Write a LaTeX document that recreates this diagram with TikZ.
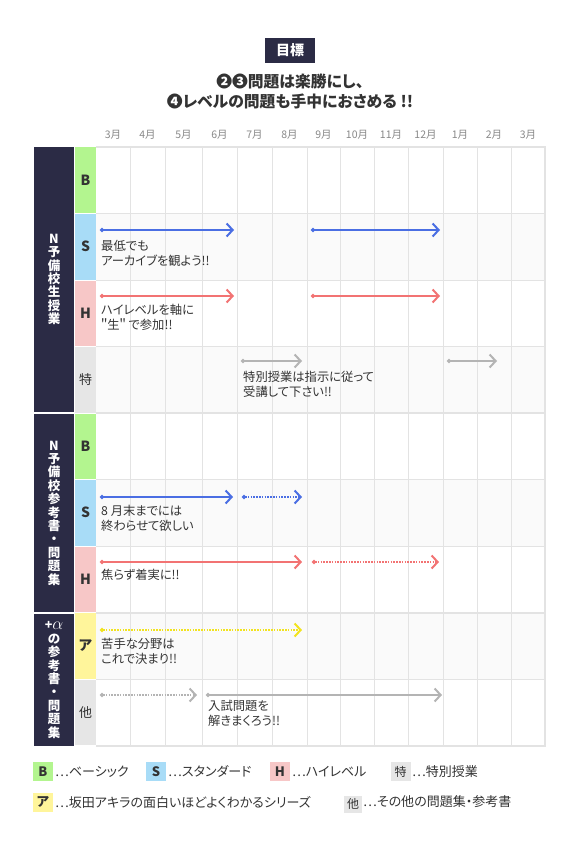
\documentclass[tikz,border=0pt]{standalone}
\usepackage{fontspec}
\setmainfont{Noto Sans CJK JP}[RawFeature=+palt]
\usetikzlibrary{arrows.meta}
\definecolor{navy}{HTML}{2B2B45}
\definecolor{txt}{HTML}{333333}
\definecolor{monthgray}{HTML}{888888}
\definecolor{gridline}{HTML}{E3E3E3}
\definecolor{rowbg}{HTML}{FAFAFA}
\definecolor{bcol}{HTML}{B3F58F}
\definecolor{scol}{HTML}{A8DCF7}
\definecolor{hcol}{HTML}{F7C7C7}
\definecolor{tcol}{HTML}{E6E6E6}
\definecolor{acol}{HTML}{FFF59B}
\definecolor{blueline}{HTML}{4A6EE3}
\definecolor{redline}{HTML}{F27373}
\definecolor{grayline}{HTML}{B4B4B4}
\definecolor{yellowline}{HTML}{F2E31E}

\begin{document}
\begin{tikzpicture}[
    x=1pt, y=-1pt,
    sect/.style={
        fill=navy,
        text=white,
        minimum width=40pt,
        align=center,
        inner sep=0pt,
        font=\bfseries\fontsize{12.5}{13.4}\selectfont
    },
    cell/.style={
        minimum width=21pt,
        minimum height=65.5pt,
        inner sep=0pt,
        text=txt,
        font=\bfseries\fontsize{14}{14}\selectfont
    },
    note/.style={anchor=north west, align=left, inner sep=0pt, text=txt,
        font=\fontsize{12.3}{15}\selectfont},
    month/.style={text=monthgray, font=\fontsize{10.5}{10.5}\selectfont},
    bar/.style={line width=2pt,
        arrows={Circle[length=4pt]-Straight Barb[length=6pt,width=13pt]}},
    dots/.style={bar, dash pattern=on 1.6pt off 1.2pt},
    badge/.style={minimum width=20pt, minimum height=19pt, inner sep=0pt,
        text=txt, font=\bfseries\fontsize{13}{13}\selectfont},
    key/.style={anchor=west, inner sep=0pt, text=txt,
        font=\fontsize{13}{13}\selectfont}
]
    \useasboundingbox (0,0) rectangle (580,850);

    % heading
    \node[fill=navy, text=white, minimum width=50pt, minimum height=25pt,
        inner sep=0pt, font=\bfseries\fontsize{14}{14}\selectfont]
        (goal) at (290,50.5) {目標};
    \node[align=center, text=txt, inner sep=0pt,
        font=\bfseries\fontsize{15.8}{20}\selectfont]
        (aim) at (290,92) {❷❸問題は楽勝にし、\\❹レベルの問題も手中におさめる !!};

    % rows and grid
    \foreach \ya/\yb in {213.5/280, 346.5/413, 479.5/546, 612.5/679}
        \fill[rowbg] (96,\ya) rectangle (545,\yb);
    \foreach \xa in {130,165,202,237,272,307,340,374,408,443,477,511}
        \draw[gridline, line width=1pt] (\xa,147) -- (\xa,746);
    \foreach \ya in {213.5,280,346.5,479.5,546,679}
        \draw[gridline, line width=1pt] (96,\ya) -- (545,\ya);
    \foreach \ya in {413,612.5}
        \draw[gridline, line width=2pt] (96,\ya) -- (545,\ya);
    \draw[gridline, line width=2pt] (96,147) -- (545,147) -- (545,746) -- (96,746);

    % months
    \foreach \xm/\m [count=\i] in {113/3月, 147.5/4月, 183.5/5月, 219.5/6月,
        254.5/7月, 289.5/8月, 323.5/9月, 357/10月, 391/11月, 425.5/12月,
        460/1月, 494/2月, 528/3月}
        \node[month] (m\i) at (\xm,135) {\m};

    % sections
    \node[sect, minimum height=265pt] (sec1) at (54,279.5)
        {N\\予\\備\\校\\生\\授\\業};
    \node[sect, minimum height=198pt] (sec2) at (54,513)
        {N\\予\\備\\校\\参\\考\\書\\・\\問\\題\\集};
    \node[sect, minimum height=132pt] (sec3) at (54,680)
        {+{\fontsize{17}{13.4}\selectfont$\alpha$}\\の\\参\\考\\書\\・\\問\\題\\集};

    % level cells
    \node[cell, fill=bcol] (b1) at (85.5,180.25) {B};
    \node[cell, fill=scol] (s1) at (85.5,246.75) {S};
    \node[cell, fill=hcol] (h1) at (85.5,313.25) {H};
    \node[cell, fill=tcol, font=\fontsize{13}{13}\selectfont] (t1) at (85.5,379.75) {特};
    \node[cell, fill=bcol] (b2) at (85.5,446.25) {B};
    \node[cell, fill=scol] (s2) at (85.5,512.75) {S};
    \node[cell, fill=hcol] (h2) at (85.5,579.25) {H};
    \node[cell, fill=acol] (a3) at (85.5,645.75) {ア};
    \node[cell, fill=tcol, font=\fontsize{13}{13}\selectfont] (o3) at (85.5,712.25) {他};

    % plans
    \draw[bar, blueline] (100,230) -- (234,230);
    \draw[bar, blueline] (311,230) -- (440,230);
    \draw[bar, redline] (100,296) -- (234,296);
    \draw[bar, redline] (311,296) -- (440,296);
    \draw[bar, grayline] (241,361) -- (302,361);
    \draw[bar, grayline] (447,361) -- (497,361);
    \draw[bar, blueline] (100,497) -- (233,497);
    \draw[dots, blueline] (242,497) -- (302,497);
    \draw[bar, redline] (100,562) -- (302,562);
    \draw[dots, redline] (312,562) -- (439,562);
    \draw[dots, yellowline] (100,630) -- (302,630);
    \draw[dots, grayline] (100,695) -- (197,695);
    \draw[bar, grayline] (206,695) -- (442,695);

    \node[note] (n1) at (101,240) {最低でも\\アーカイブを観よう!!};
    \node[note] (n2) at (101,304) {ハイレベルを軸に\\＂生＂ で参加!!};
    \node[note] (n3) at (243,371) {特別授業は指示に従って\\受講して下さい!!};
    \node[note] (n4) at (101,505) {8 月末までには\\終わらせて欲しい};
    \node[note] (n5) at (101,569) {焦らず着実に!!};
    \node[note] (n6) at (101,638) {苦手な分野は\\これで決まり!!};
    \node[note] (n7) at (208,700) {入試問題を\\解きまくろう!!};

    % legend
    \node[badge, fill=bcol] (kb) at (43,771.5) {B};
    \node[key] (kbt) at (55,771.5) {…ベーシック};
    \node[badge, fill=scol] (ks) at (156,771.5) {S};
    \node[key] (kst) at (168,771.5) {…スタンダード};
    \node[badge, fill=hcol] (kh) at (280,771.5) {H};
    \node[key] (kht) at (292,771.5) {…ハイレベル};
    \node[badge, fill=tcol, font=\fontsize{12}{12}\selectfont] (kt) at (400.5,771.5) {特};
    \node[key] (ktt) at (412,771.5) {…特別授業};
    \node[badge, fill=acol] (ka) at (43,802) {ア};
    \node[key] (kat) at (55,802) {…坂田アキラの面白いほどよくわかるシリーズ};
    \node[badge, fill=tcol, minimum width=18pt, minimum height=17pt,
        font=\fontsize{12}{12}\selectfont] (ko) at (353,804) {他};
    \node[key] (kot) at (363,802) {…その他の問題集・参考書};
\end{tikzpicture}
\end{document}
